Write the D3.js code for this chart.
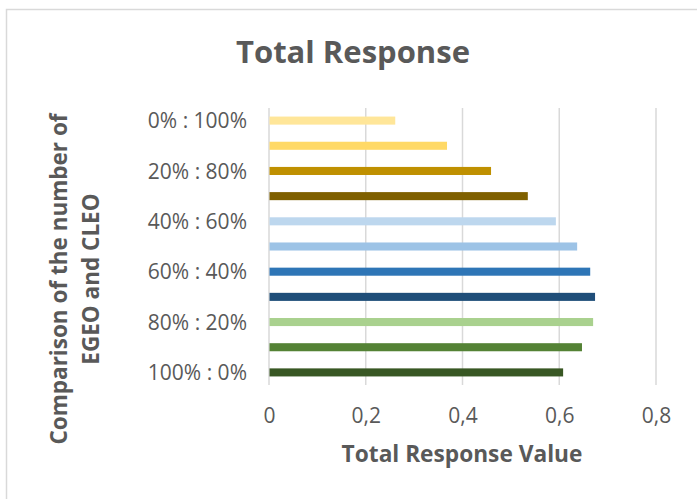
<!DOCTYPE html>
<html>
<head>
<meta charset="utf-8">
<script src="https://cdn.jsdelivr.net/npm/d3@7"></script>
<style>
  html, body { margin: 0; padding: 0; background: #fff; }
  svg { display: block; }
  text { font-family: "Open Sans", "Liberation Sans", sans-serif; fill: #595959; }
</style>
</head>
<body>
<svg id="chart" width="697" height="499"></svg>
<script>
// ---- data ----
const categories = ["0% : 100%", "10% : 90%", "20% : 80%", "30% : 70%", "40% : 60%", "50% : 50%",
                    "60% : 40%", "70% : 30%", "80% : 20%", "90% : 10%", "100% : 0%"];
const values = [0.261, 0.368, 0.459, 0.535, 0.593, 0.637, 0.664, 0.674, 0.670, 0.647, 0.608];
const barColors = ["#FFE699", "#FFD966", "#BF9000", "#7F6000", "#BDD7EE", "#9DC3E6",
                   "#2E75B6", "#1F4E79", "#A9D18E", "#548235", "#385723"];
const xTicks = [0, 0.2, 0.4, 0.6, 0.8];
const xTickLabels = ["0", "0,2", "0,4", "0,6", "0,8"];
const title = "Total Response";
const xTitle = "Total Response Value";
const yTitleLines = ["Comparison of the number of", "EGEO and CLEO"];

// ---- layout ----
const svg = d3.select("#chart");
const plot = { left: 269, right: 656, top: 108, bottom: 385 };

svg.append("rect")
  .attr("x", 6.5).attr("y", 9.5).attr("width", 720).attr("height", 520)
  .attr("fill", "#fff").attr("stroke", "#d9d9d9").attr("stroke-width", 1.5);

const x = d3.scaleLinear().domain([0, 0.8]).range([plot.left, plot.right]);
const y = d3.scaleBand().domain(categories).range([plot.top, plot.bottom])
  .paddingInner(0.68).paddingOuter(0.34);

// gridlines
svg.append("g").selectAll("line").data(xTicks).join("line")
  .attr("x1", d => x(d)).attr("x2", d => x(d))
  .attr("y1", plot.top).attr("y2", plot.bottom)
  .attr("stroke", "#d9d9d9").attr("stroke-width", 1.5);

// bars
svg.append("g").selectAll("rect").data(categories).join("rect")
  .attr("x", x(0) + 0.5)
  .attr("y", d => y(d))
  .attr("width", (d, i) => x(values[i]) - x(0) - 0.5)
  .attr("height", y.bandwidth())
  .attr("fill", (d, i) => barColors[i]);

// x axis (labels only)
const xAxis = d3.axisBottom(x).tickValues(xTicks)
  .tickFormat((d, i) => xTickLabels[i]).tickSize(0).tickPadding(0);
const gx = svg.append("g").attr("transform", `translate(0,${423})`).call(xAxis);
gx.select(".domain").remove();
gx.selectAll("text").attr("dy", 0).attr("y", 0)
  .style("font-size", "21px").style("fill", "#595959")
  .style("font-family", "'Open Sans', sans-serif");

// y axis (category labels, every other one shown)
const yAxis = d3.axisLeft(y).tickSize(0).tickPadding(0)
  .tickFormat((d, i) => i % 2 === 0 ? d : "");
const gy = svg.append("g").attr("transform", `translate(${247},0)`).call(yAxis);
gy.select(".domain").remove();
gy.selectAll("text").attr("x", 0).attr("dy", "0.36em")
  .style("font-size", "21px").style("fill", "#595959")
  .style("font-family", "'Open Sans', sans-serif");

// title
svg.append("text").attr("x", 353).attr("y", 63).attr("text-anchor", "middle")
  .style("font-size", "31px").style("font-weight", "bold").text(title);

// x title
svg.append("text").attr("x", 462).attr("y", 462).attr("text-anchor", "middle")
  .style("font-size", "22.7px").style("font-weight", "bold").text(xTitle);

// y title
const yt = svg.append("text").attr("transform", "translate(0,279) rotate(-90)")
  .attr("text-anchor", "middle").style("font-size", "22.5px").style("font-weight", "bold");
yt.selectAll("tspan").data(yTitleLines).join("tspan")
  .attr("x", 0).attr("y", (d, i) => [66.5, 99][i]).text(d => d);
</script>
</body>
</html>
